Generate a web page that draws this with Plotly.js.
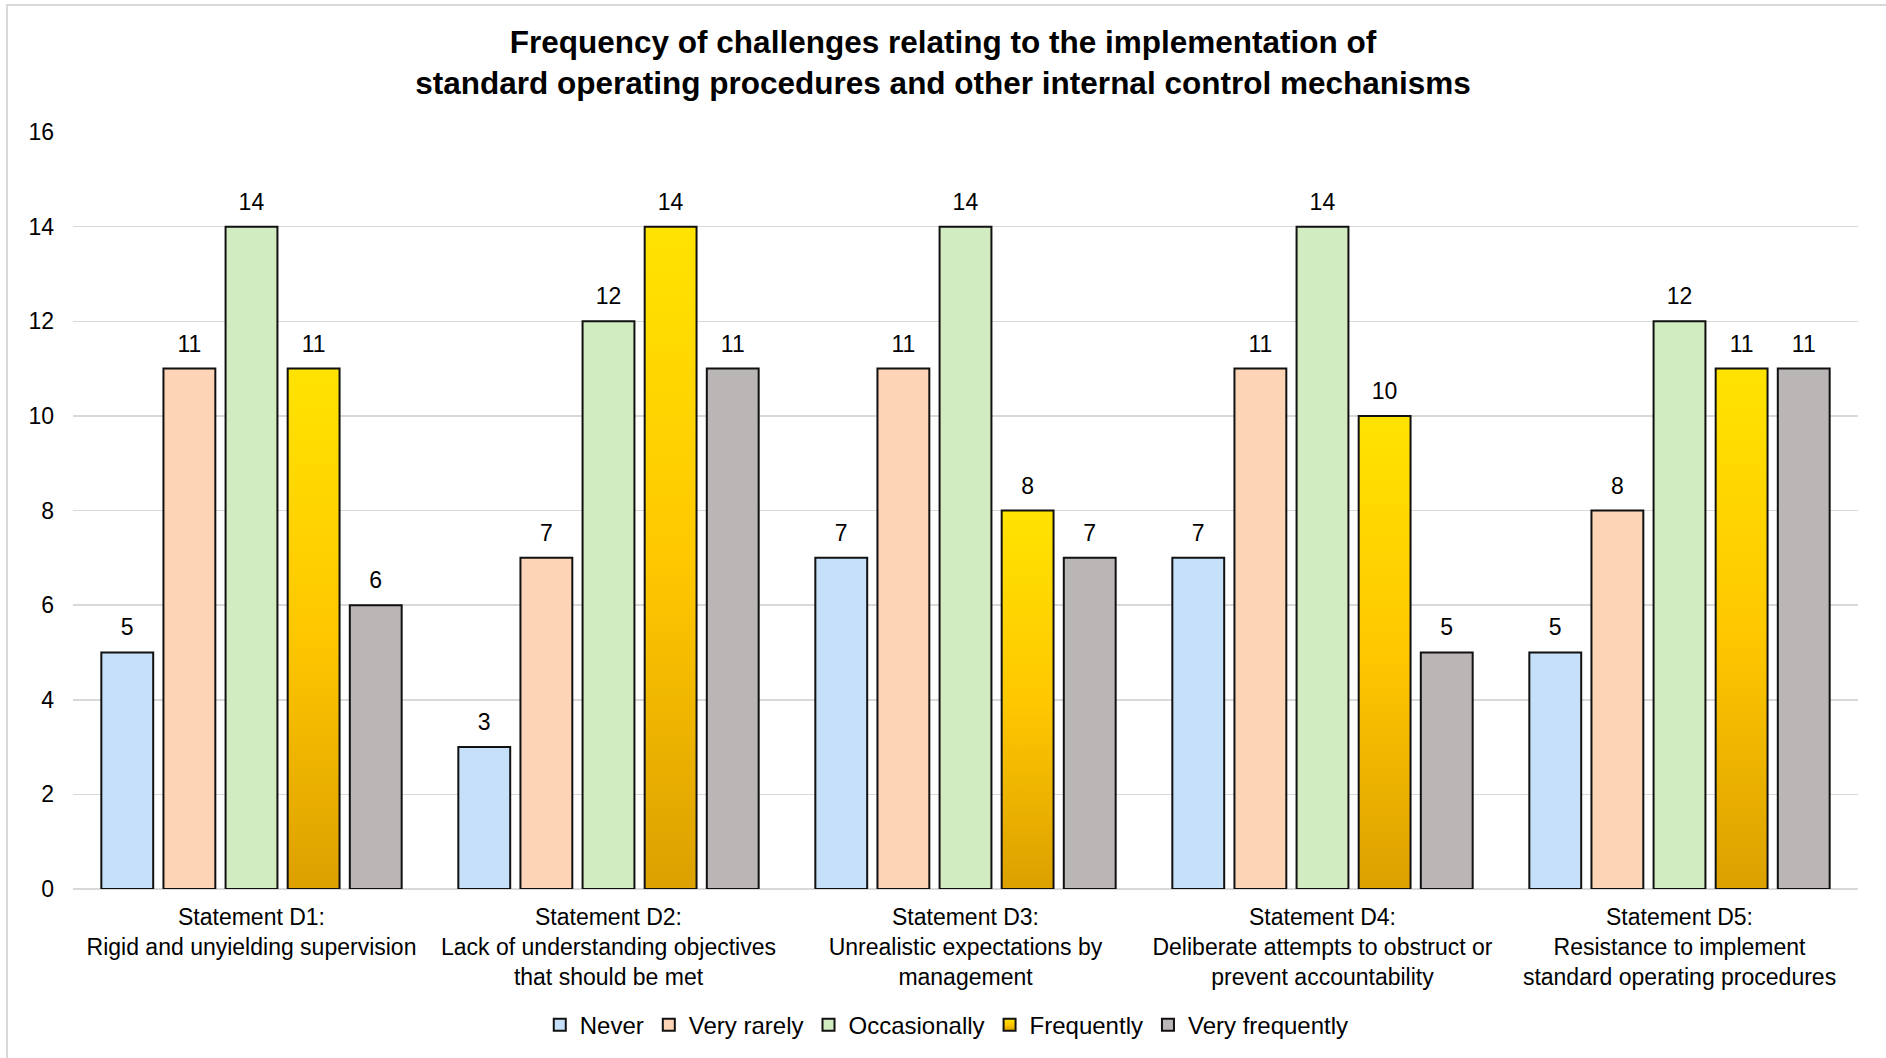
<!DOCTYPE html>
<html>
<head>
<meta charset="utf-8">
<script src="https://cdn.plot.ly/plotly-3.0.1.min.js"></script>
<style>
  html, body { margin: 0; padding: 0; background: #ffffff; overflow: hidden; }
  #chart { width: 1886px; height: 1058px; }
  #frame {
    position: absolute; left: 6px; top: 4px; width: 2000px; height: 2000px;
    border: 2px solid #d9d9d9; pointer-events: none;
  }
</style>
</head>
<body>
<div id="chart"></div>
<div id="frame"></div>
<script>
// Statements (x-axis categories)
const categories = [
  'Statement D1:<br>Rigid and unyielding supervision',
  'Statement D2:<br>Lack of understanding objectives<br>that should be met',
  'Statement D3:<br>Unrealistic expectations by<br>management',
  'Statement D4:<br>Deliberate attempts to obstruct or<br>prevent accountability',
  'Statement D5:<br>Resistance to implement<br>standard operating procedures'
];

// Response counts per frequency level
const never          = [5, 3, 7, 7, 5];
const veryRarely     = [11, 7, 11, 11, 8];
const occasionally   = [14, 12, 14, 14, 12];
const frequently     = [11, 14, 8, 10, 11];
const veryFrequently = [6, 11, 7, 5, 11];

const seriesNames = ['Never', 'Very rarely', 'Occasionally', 'Frequently', 'Very frequently'];
const seriesValues = [never, veryRarely, occasionally, frequently, veryFrequently];
const seriesColors = ['#c6e0f9', '#fdd5b6', '#d2ecc1', '#ffcc00', '#bab6b5'];

const FONT = '"Liberation Sans", Arial, sans-serif';

const traces = seriesNames.map((name, i) => ({
  type: 'bar',
  name: name,
  x: categories,
  y: seriesValues[i],
  text: seriesValues[i].map(String),
  textposition: 'outside',
  cliponaxis: false,
  textfont: { family: FONT, size: 23, color: '#000000' },
  marker: { color: seriesColors[i], line: { color: '#111111', width: 2 } },
  hoverinfo: 'x+y+name'
}));

const layout = {
  width: 1886,
  height: 1058,
  paper_bgcolor: '#ffffff',
  plot_bgcolor: '#ffffff',
  font: { family: FONT, size: 23, color: '#000000' },
  title: {
    text: '<b>Frequency of challenges relating to the implementation of<br>standard operating procedures and other internal control mechanisms</b>',
    font: { family: FONT, size: 31.5, color: '#000000' },
    x: 0.5, xref: 'container', xanchor: 'center',
    y: 0.95, yref: 'container', yanchor: 'top'
  },
  margin: { l: 73, r: 28, t: 132, b: 169 },
  barmode: 'group',
  bargap: 0.13,
  bargroupgap: 0.165,
  xaxis: {
    type: 'category',
    showgrid: false,
    showline: false,
    ticks: '',
    ticklabelstandoff: 12,
    tickfont: { family: FONT, size: 23, color: '#000000' },
    automargin: false
  },
  yaxis: {
    range: [0, 16],
    dtick: 2,
    tick0: 0,
    showgrid: true,
    gridcolor: '#d9d9d9',
    gridwidth: 1.5,
    zeroline: true,
    zerolinecolor: '#d9d9d9',
    zerolinewidth: 2,
    showline: false,
    ticks: '',
    ticklabelstandoff: 18,
    tickfont: { family: FONT, size: 23, color: '#000000' },
    automargin: false
  },
  showlegend: true,
  legend: {
    orientation: 'h',
    xref: 'container', x: 0.502, xanchor: 'center',
    yref: 'container', y: 0.031, yanchor: 'middle',
    font: { family: FONT, size: 24, color: '#000000' },
    itemwidth: 30,
    traceorder: 'normal'
  }
};

Plotly.newPlot('chart', traces, layout, { displayModeBar: false, staticPlot: true }).then(gd => {
  // Vertical yellow-to-amber fill for the "Frequently" bars and legend swatch
  const svgNS = 'http://www.w3.org/2000/svg';
  const defs = gd.querySelector('svg.main-svg defs');
  const grad = document.createElementNS(svgNS, 'linearGradient');
  grad.setAttribute('id', 'freqGradient');
  grad.setAttribute('x1', '0'); grad.setAttribute('y1', '0');
  grad.setAttribute('x2', '0'); grad.setAttribute('y2', '1');
  [['0', '#ffe300'], ['0.5', '#ffc800'], ['1', '#dca000']].forEach(([off, col]) => {
    const s = document.createElementNS(svgNS, 'stop');
    s.setAttribute('offset', off);
    s.setAttribute('stop-color', col);
    grad.appendChild(s);
  });
  defs.appendChild(grad);

  const barTraces = gd.querySelectorAll('.barlayer .trace.bars');
  const freqIdx = seriesNames.indexOf('Frequently');
  if (barTraces[freqIdx]) {
    barTraces[freqIdx].querySelectorAll('.point path').forEach(p => { p.style.fill = 'url(#freqGradient)'; });
  }
  const legendItems = gd.querySelectorAll('.legend .traces');
  if (legendItems[freqIdx]) {
    legendItems[freqIdx].querySelectorAll('.legendpoints path').forEach(p => { p.style.fill = 'url(#freqGradient)'; });
  }

  // Lift the value labels a little further above the bar tops
  gd.querySelectorAll('.barlayer .trace.bars .point text').forEach(t => {
    const tr = t.getAttribute('transform') || '';
    t.setAttribute('transform', 'translate(0,-9) ' + tr);
  });
});
</script>
</body>
</html>
